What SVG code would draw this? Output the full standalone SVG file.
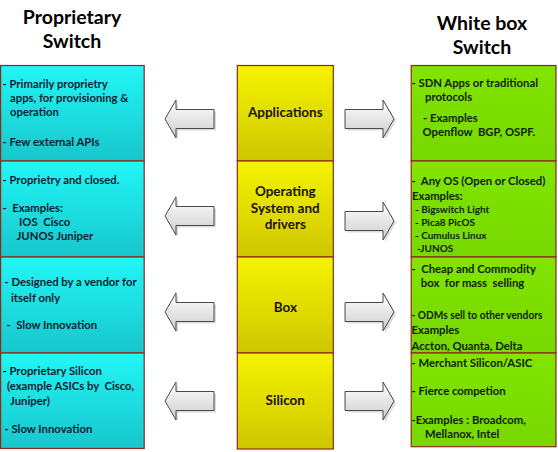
<svg xmlns="http://www.w3.org/2000/svg" width="558" height="452" viewBox="0 0 558 452">
<style>
text{font-family:Lato,"Liberation Sans",sans-serif;font-weight:bold;white-space:pre;}
.title{font-size:19.5px;fill:#000;text-anchor:middle;}
.mid{font-size:13.5px;fill:#1a1400;text-anchor:middle;}
.lt{font-size:11.3px;fill:#0c1c30;}
.rt{font-size:11.3px;fill:#0f2200;}
.rs{font-size:10px;fill:#0f2200;}
.cell{stroke:#8a2c1a;stroke-width:1.2;}
.c{fill:url(#gc);}
.y{fill:url(#gy);}
.g{fill:url(#gg);}
.arr{fill:url(#ga);stroke:#4a4a4a;stroke-width:1;}
.sh{fill:#b8b8b8;opacity:0.5;}
</style>
<defs>
<linearGradient id="gc" x1="0" y1="0" x2="0" y2="1"><stop offset="0" stop-color="#22f6f6"/><stop offset="1" stop-color="#17c6cc"/></linearGradient>
<linearGradient id="gy" x1="0" y1="0" x2="0" y2="1"><stop offset="0" stop-color="#f4f400"/><stop offset="1" stop-color="#cfc600"/></linearGradient>
<linearGradient id="gg" x1="0" y1="0" x2="0" y2="1"><stop offset="0" stop-color="#82e400"/><stop offset="1" stop-color="#76d800"/></linearGradient>
<linearGradient id="ga" x1="0" y1="0" x2="0" y2="1"><stop offset="0" stop-color="#ffffff"/><stop offset="1" stop-color="#cdcdcd"/></linearGradient>
</defs>
<rect width="558" height="452" fill="#fff"/>

<g id="title-left"><text class="title" x="72" y="24">Proprietary</text><text class="title" x="72" y="48">Switch</text></g>
<g id="title-right"><text class="title" x="482" y="30">White box</text><text class="title" x="482" y="54">Switch</text></g>

<g id="left-apps"><rect class="cell c" x="0.6" y="65.5" width="143.6" height="95.5"/>
<text class="lt" x="2.5" y="87.5">- Primarily proprietry</text>
<text class="lt" x="10" y="101.5">apps, for provisioning &amp;</text>
<text class="lt" x="10" y="115.5">operation</text>
<text class="lt" x="2.5" y="145.5">- Few external APIs</text></g>

<g id="left-os"><rect class="cell c" x="0.6" y="161" width="143.6" height="96"/>
<text class="lt" x="2.5" y="183.5">- Proprietry and closed.</text>
<text class="lt" x="2.5" y="211.5">-  Examples:</text>
<text class="lt" x="19" y="225.5">IOS  Cisco</text>
<text class="lt" x="16.5" y="240">JUNOS Juniper</text></g>

<g id="left-box"><rect class="cell c" x="0.6" y="257" width="143.6" height="96"/>
<text class="lt" x="4.5" y="285.5">- Designed by a vendor for</text>
<text class="lt" x="11" y="301.5">itself only</text>
<text class="lt" x="6.5" y="328.5">-  Slow Innovation</text></g>

<g id="left-silicon"><rect class="cell c" x="0.6" y="353" width="143.6" height="95.5"/>
<text class="lt" x="2.5" y="375">- Proprietary Silicon</text>
<text class="lt" x="7" y="390">(example ASICs by  Cisco,</text>
<text class="lt" x="10" y="404.5">Juniper)</text>
<text class="lt" x="4.5" y="432.5">- Slow Innovation</text></g>

<g id="mid-apps"><rect class="cell y" x="237.3" y="65.5" width="96" height="95.5"/>
<text class="mid" x="285.3" y="117">Applications</text></g>
<g id="mid-os"><rect class="cell y" x="237.3" y="161" width="96" height="96"/>
<text class="mid" x="285.3" y="196">Operating</text>
<text class="mid" x="285.3" y="212.5">System and</text>
<text class="mid" x="285.3" y="229">drivers</text></g>
<g id="mid-box"><rect class="cell y" x="237.3" y="257" width="96" height="96"/>
<text class="mid" x="285.3" y="312">Box</text></g>
<g id="mid-silicon"><rect class="cell y" x="237.3" y="353" width="96" height="96"/>
<text class="mid" x="285.3" y="405">Silicon</text></g>

<g id="right-apps"><rect class="cell g" x="411.2" y="65.5" width="144.8" height="95.5"/>
<text class="rt" x="411.5" y="87">- SDN Apps or traditional</text>
<text class="rt" x="425" y="100.5">protocols</text>
<text class="rt" x="423" y="122">- Examples</text>
<text class="rt" x="422.5" y="135.5">Openflow  BGP, OSPF.</text></g>

<g id="right-os"><rect class="cell g" x="411.2" y="161" width="144.8" height="96"/>
<text class="rt" x="411.5" y="185">-  Any OS (Open or Closed)</text>
<text class="rt" x="412" y="200">Examples:</text>
<text class="rs" x="415" y="212.5">- Bigswitch Light</text>
<text class="rs" x="415" y="226">- Pica8 PicOS</text>
<text class="rs" x="415" y="239">- Cumulus Linux</text>
<text class="rs" x="417" y="252">-JUNOS</text></g>

<g id="right-box"><rect class="cell g" x="411.2" y="257" width="144.8" height="96"/>
<text class="rt" x="411.5" y="272.5">-  Cheap and Commodity</text>
<text class="rt" x="418" y="287"> box  for mass  selling</text>
<text class="rt" x="411.5" y="318.5" style="font-size:10.5px" textLength="131" lengthAdjust="spacingAndGlyphs">- ODMs sell to other vendors</text>
<text class="rt" x="411.5" y="333.5">Examples</text>
<text class="rt" x="411.5" y="349.5">Accton, Quanta, Delta</text></g>

<g id="right-silicon"><rect class="cell g" x="411.2" y="353" width="144.8" height="93.7"/>
<text class="rt" x="411.5" y="367">- Merchant Silicon/ASIC</text>
<text class="rt" x="411.5" y="395">- Fierce competion</text>
<text class="rt" x="411.5" y="424">-Examples : Broadcom,</text>
<text class="rt" x="425" y="437.5">Mellanox, Intel</text></g>

<g id="connectors">
<g transform="translate(0,119)"><path class="sh" d="M167,2 L178,-17 L178,-7.5 L216,-7.5 L216,11.5 L178,11.5 L178,21 Z"/><path class="arr" d="M165,0 L176,-19 L176,-9.5 L214,-9.5 L214,9.5 L176,9.5 L176,19 Z"/></g>
<g transform="translate(0,216)"><path class="sh" d="M167,2 L178,-17 L178,-7.5 L216,-7.5 L216,11.5 L178,11.5 L178,21 Z"/><path class="arr" d="M165,0 L176,-19 L176,-9.5 L214,-9.5 L214,9.5 L176,9.5 L176,19 Z"/></g>
<g transform="translate(0,312)"><path class="sh" d="M167,2 L178,-17 L178,-7.5 L216,-7.5 L216,11.5 L178,11.5 L178,21 Z"/><path class="arr" d="M165,0 L176,-19 L176,-9.5 L214,-9.5 L214,9.5 L176,9.5 L176,19 Z"/></g>
<g transform="translate(0,401)"><path class="sh" d="M167,2 L178,-17 L178,-7.5 L216,-7.5 L216,11.5 L178,11.5 L178,21 Z"/><path class="arr" d="M165,0 L176,-19 L176,-9.5 L214,-9.5 L214,9.5 L176,9.5 L176,19 Z"/></g>
<g transform="translate(0,119)"><path class="sh" d="M347,-7.5 L385,-7.5 L385,-17 L396,2 L385,21 L385,11.5 L347,11.5 Z"/><path class="arr" d="M345,-9.5 L383,-9.5 L383,-19 L394,0 L383,19 L383,9.5 L345,9.5 Z"/></g>
<g transform="translate(0,221)"><path class="sh" d="M347,-7.5 L385,-7.5 L385,-17 L396,2 L385,21 L385,11.5 L347,11.5 Z"/><path class="arr" d="M345,-9.5 L383,-9.5 L383,-19 L394,0 L383,19 L383,9.5 L345,9.5 Z"/></g>
<g transform="translate(0,312)"><path class="sh" d="M347,-7.5 L385,-7.5 L385,-17 L396,2 L385,21 L385,11.5 L347,11.5 Z"/><path class="arr" d="M345,-9.5 L383,-9.5 L383,-19 L394,0 L383,19 L383,9.5 L345,9.5 Z"/></g>
<g transform="translate(0,401)"><path class="sh" d="M347,-7.5 L385,-7.5 L385,-17 L396,2 L385,21 L385,11.5 L347,11.5 Z"/><path class="arr" d="M345,-9.5 L383,-9.5 L383,-19 L394,0 L383,19 L383,9.5 L345,9.5 Z"/></g>
</g>
</svg>
